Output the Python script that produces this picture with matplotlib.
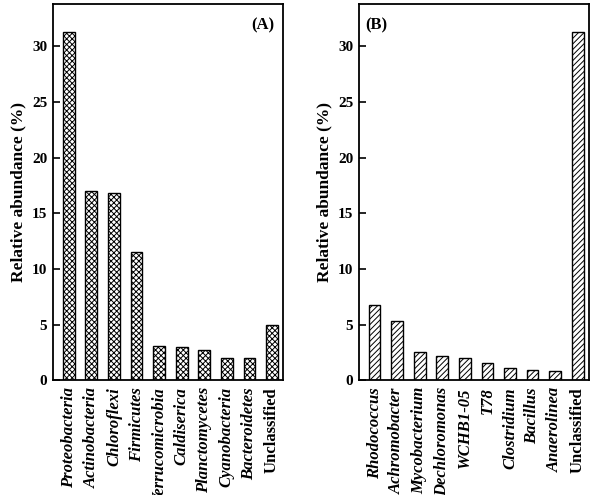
import matplotlib
matplotlib.use("Agg")
import matplotlib.pyplot as plt

plt.rcParams['font.family'] = ['Liberation Serif', 'DejaVu Serif']
plt.rcParams['hatch.linewidth'] = 0.7

cats_a = ["Proteobacteria", "Actinobacteria", "Chloroflexi", "Firmicutes",
          "Verrucomicrobia", "Caldiserica", "Planctomycetes", "Cyanobacteria",
          "Bacteroidetes", "Unclassified"]
vals_a = [31.3, 17.0, 16.8, 11.5, 3.05, 2.95, 2.7, 1.95, 1.95, 4.95]

cats_b = ["Rhodococcus", "Achromobacter", "Mycobacterium", "Dechloromonas",
          "WCHB1-05", "T78", "Clostridium", "Bacillus", "Anaerolinea", "Unclassified"]
vals_b = [6.75, 5.3, 2.55, 2.15, 2.0, 1.5, 1.1, 0.95, 0.85, 31.3]

yticks = [0, 5, 10, 15, 20, 25, 30]

fig = plt.figure(figsize=(5.92, 4.95), dpi=100)
axA = fig.add_axes([0.0895, 0.232, 0.389, 0.760])
axB = fig.add_axes([0.606, 0.232, 0.389, 0.760])

def draw(ax, cats, vals, hatch, tag, tagx, tagha):
    x = range(len(cats))
    ax.bar(x, vals, width=0.52, color='white', edgecolor='black',
           hatch=hatch, linewidth=1.0)
    ax.set_xlim(-0.7, len(cats) - 0.5)
    ax.set_ylim(0, 33.8)
    ax.set_yticks(yticks)
    ax.set_yticklabels([str(t) for t in yticks], fontsize=11, fontweight='bold')
    ax.tick_params(axis='y', direction='in', length=5, width=1.2, pad=4)
    ax.set_xticks(list(x))
    labels = ax.set_xticklabels(cats, rotation=90, fontsize=12, fontweight='bold')
    for lab in labels:
        if lab.get_text() != "Unclassified":
            lab.set_style('italic')
    ax.tick_params(axis='x', length=0, pad=5)
    for s in ax.spines.values():
        s.set_linewidth(1.3)
    ax.set_ylabel("Relative abundance (%)", fontsize=12.5, fontweight='bold', labelpad=4)
    ax.text(tagx, 0.965, tag, transform=ax.transAxes, fontsize=12,
            fontweight='bold', ha=tagha, va='top')

draw(axA, cats_a, vals_a, 'xxxxxx', '(A)', 0.96, 'right')
draw(axB, cats_b, vals_b, '//////', '(B)', 0.03, 'left')

fig.savefig("out.png", dpi=100)
